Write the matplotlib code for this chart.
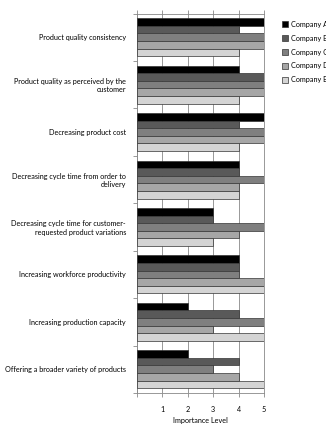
import numpy as np
import matplotlib.pyplot as plt

plt.rcParams['font.family'] = ['Lato', 'DejaVu Sans']

categories = [
    "Product quality consistency",
    "Product quality as perceived by the\ncustomer",
    "Decreasing product cost",
    "Decreasing cycle time from order to\ndelivery",
    "Decreasing cycle time for customer-\nrequested product variations",
    "Increasing workforce productivity",
    "Increasing production capacity",
    "Offering a broader variety of products",
]
companies = ["Company A", "Company B", "Company C", "Company D", "Company E"]
company_a = [5, 4, 5, 4, 3, 4, 2, 2]
company_b = [4, 5, 4, 4, 3, 4, 4, 4]
company_c = [5, 5, 5, 5, 5, 4, 5, 3]
company_d = [5, 5, 5, 4, 4, 5, 3, 4]
company_e = [4, 4, 4, 4, 3, 5, 5, 5]
series = [company_a, company_b, company_c, company_d, company_e]
colors = ["#000000", "#595959", "#7f7f7f", "#a6a6a6", "#d4d4d4"]

fs = 5.2

fig = plt.figure(figsize=(3.26, 4.25), dpi=100)
ax = fig.add_axes([137/326, 1 - 393/425, 127/326, 379.5/425])

n = len(categories)
bh = 0.16
centers = np.arange(n) + 0.5
for k, vals in enumerate(series):
    y = centers - 2 * bh + k * bh
    ax.barh(y, vals, height=bh, color=colors[k], edgecolor="#333333",
            linewidth=0.5, label=companies[k], zorder=3)

ax.set_xlim(0, 5)
ax.set_ylim(n, 0)
ax.set_xticks(range(6))
ax.set_xticklabels([""] + [str(i) for i in range(1, 6)], fontsize=fs)
ax.xaxis.grid(True, color="#888888", linewidth=0.6, zorder=0)
ax.tick_params(axis="x", direction="out", length=3, width=0.6, color="#888888",
               top=True, pad=6.5)

ax.set_yticks(range(n + 1))
ax.set_yticklabels([])
ax.set_yticks(centers, minor=True)
ax.set_yticklabels(categories, minor=True, fontsize=fs, ha="right")
ax.tick_params(axis="y", which="major", direction="out", length=3, width=0.6,
               color="#888888")
ax.tick_params(axis="y", which="minor", length=0, pad=8)
for s in ax.spines.values():
    s.set_color("#888888")
    s.set_linewidth(0.6)

ax.set_xlabel("Importance Level", fontsize=fs, labelpad=2.5)

handles, labels = ax.get_legend_handles_labels()
fig.legend(handles, labels, loc="upper left", bbox_to_anchor=(279/326, 1 - 18/425),
           frameon=False, fontsize=fs, handlelength=0.9, handleheight=0.9,
           handletextpad=0.3, labelspacing=0.95, borderaxespad=0)

fig.savefig("out.png", dpi=100)
